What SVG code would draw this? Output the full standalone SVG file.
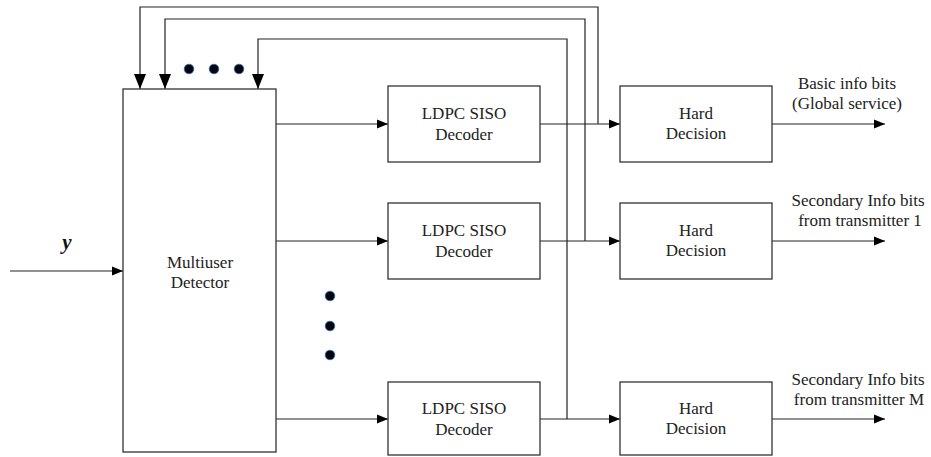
<svg xmlns="http://www.w3.org/2000/svg" width="931" height="457" viewBox="0 0 931 457">
<style>
.box{fill:#fff;stroke:#333;stroke-width:1.3}
.ln{fill:none;stroke:#222;stroke-width:1.2}
.t{font-family:"Liberation Serif","Times New Roman",serif;font-size:17px;fill:#222;text-anchor:middle}
.dot{fill:#050510;stroke:#2a6cb0;stroke-width:0.8}
</style>
<defs>
<marker id="ah" markerUnits="userSpaceOnUse" markerWidth="11" markerHeight="10" refX="11" refY="5" orient="auto">
<path d="M0,0.5 L11,5 L0,9.5 z" fill="#000"/>
</marker>
<marker id="ahv" markerUnits="userSpaceOnUse" markerWidth="15" markerHeight="13" refX="15" refY="6.5" orient="auto">
<path d="M0,0.5 L15,6.5 L0,12.5 z" fill="#000"/>
</marker>
</defs>
<rect width="931" height="457" fill="#fff"/>

<g id="connectors">
<line class="ln" x1="10" y1="271" x2="123" y2="271" marker-end="url(#ah)"/>
<line class="ln" x1="276" y1="124" x2="388" y2="124" marker-end="url(#ah)"/>
<line class="ln" x1="276" y1="241" x2="388" y2="241" marker-end="url(#ah)"/>
<line class="ln" x1="276" y1="419" x2="388" y2="419" marker-end="url(#ah)"/>
<line class="ln" x1="540" y1="124" x2="620" y2="124" marker-end="url(#ah)"/>
<line class="ln" x1="540" y1="241" x2="620" y2="241" marker-end="url(#ah)"/>
<line class="ln" x1="540" y1="419" x2="620" y2="419" marker-end="url(#ah)"/>
<line class="ln" x1="772" y1="124" x2="885" y2="124" marker-end="url(#ah)"/>
<line class="ln" x1="772" y1="241" x2="885" y2="241" marker-end="url(#ah)"/>
<line class="ln" x1="772" y1="419" x2="885" y2="419" marker-end="url(#ah)"/>
<polyline class="ln" points="598,124 598,7 140,7 140,89" marker-end="url(#ahv)"/>
<polyline class="ln" points="585,241 585,19 165,19 165,89" marker-end="url(#ahv)"/>
<polyline class="ln" points="567,419 567,39 258,39 258,89" marker-end="url(#ahv)"/>
</g>

<g id="input-y">
<text x="67" y="249" font-family="Liberation Serif, serif" font-size="21" font-weight="bold" font-style="italic" fill="#111" text-anchor="middle">y</text>
</g>

<g id="multiuser-detector">
<rect class="box" x="123" y="89" width="153" height="363"/>
<text class="t" x="200" y="268">Multiuser</text>
<text class="t" x="200" y="288">Detector</text>
</g>

<g id="dots-top">
<circle class="dot" cx="189" cy="69" r="4.8"/>
<circle class="dot" cx="214" cy="69" r="4.8"/>
<circle class="dot" cx="239" cy="69" r="4.8"/>
</g>

<g id="dots-side">
<circle class="dot" cx="330" cy="296" r="4.8"/>
<circle class="dot" cx="330" cy="326" r="4.8"/>
<circle class="dot" cx="330" cy="355" r="4.8"/>
</g>

<g id="ldpc-1">
<rect class="box" x="388" y="86" width="152" height="76"/>
<text class="t" x="464" y="119">LDPC SISO</text>
<text class="t" x="464" y="140">Decoder</text>
</g>
<g id="ldpc-2">
<rect class="box" x="388" y="203" width="152" height="76"/>
<text class="t" x="464" y="236">LDPC SISO</text>
<text class="t" x="464" y="257">Decoder</text>
</g>
<g id="ldpc-m">
<rect class="box" x="388" y="382" width="152" height="73"/>
<text class="t" x="464" y="414">LDPC SISO</text>
<text class="t" x="464" y="435">Decoder</text>
</g>

<g id="hard-1">
<rect class="box" x="620" y="86" width="152" height="76"/>
<text class="t" x="696" y="119">Hard</text>
<text class="t" x="696" y="139">Decision</text>
</g>
<g id="hard-2">
<rect class="box" x="620" y="203" width="152" height="76"/>
<text class="t" x="696" y="236">Hard</text>
<text class="t" x="696" y="256">Decision</text>
</g>
<g id="hard-m">
<rect class="box" x="620" y="382" width="152" height="73"/>
<text class="t" x="696" y="414">Hard</text>
<text class="t" x="696" y="434">Decision</text>
</g>

<g id="out-1">
<text class="t" x="847" y="89">Basic info bits</text>
<text class="t" x="847" y="109">(Global service)</text>
</g>
<g id="out-2">
<text class="t" x="858" y="206">Secondary Info bits</text>
<text class="t" x="860" y="226">from transmitter 1</text>
</g>
<g id="out-m">
<text class="t" x="858" y="385">Secondary Info bits</text>
<text class="t" x="859" y="405">from transmitter M</text>
</g>
</svg>
